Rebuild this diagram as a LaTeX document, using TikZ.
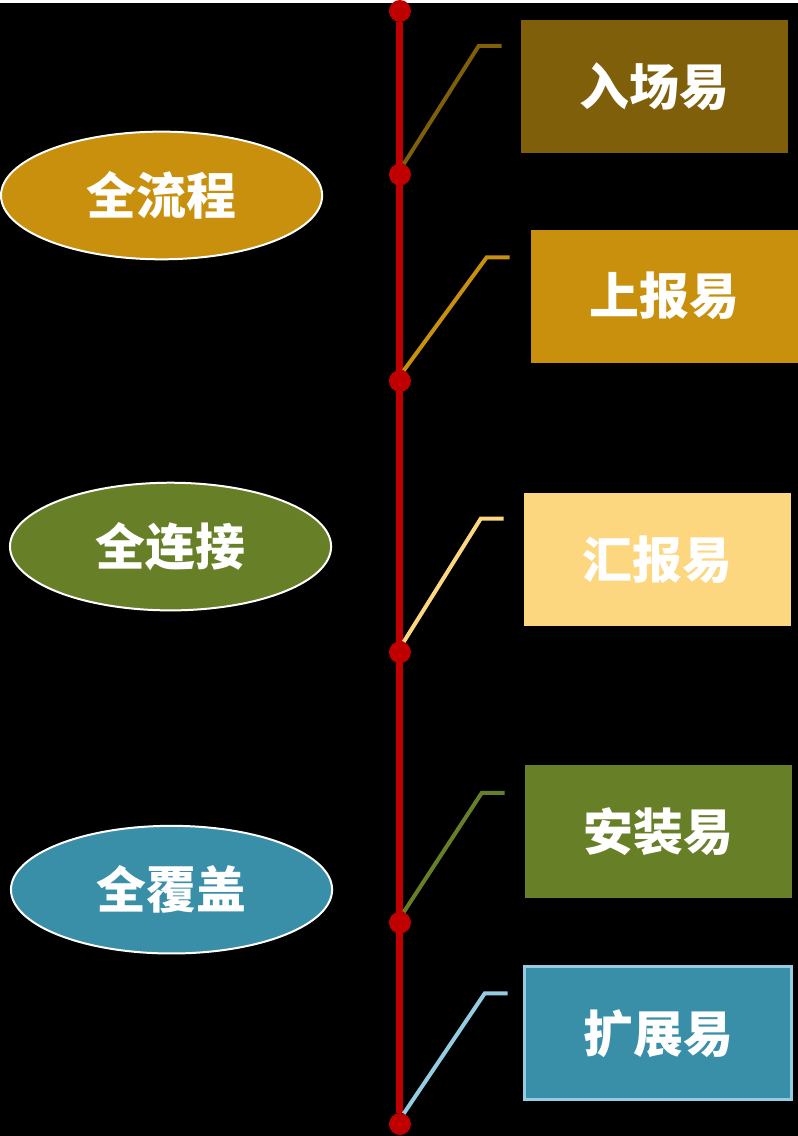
\documentclass[tikz,border=0pt]{standalone}
\usepackage{fontspec}
\newfontfamily\cjk{Noto Sans CJK SC}
\usetikzlibrary{shapes.geometric}

\definecolor{linered}{HTML}{C00000}
\definecolor{umber}{HTML}{7F5F0A}
\definecolor{amber}{HTML}{C8900C}
\definecolor{sand}{HTML}{FDD680}
\definecolor{moss}{HTML}{678028}
\definecolor{teal}{HTML}{3A8FA8}
\definecolor{sky}{HTML}{94CDE2}

\tikzset{
  easy/.style={fill=#1, text=white, inner sep=0pt, minimum width=268pt, minimum height=133pt,
    font=\cjk\bfseries\fontsize{50}{58}\selectfont},
  whole/.style={ellipse, draw=white, line width=2pt, fill=#1, text=white, inner sep=0pt,
    minimum width=322pt, minimum height=128pt, font=\cjk\bfseries\fontsize{50}{58}\selectfont},
  lead/.style={line width=4pt},
  dot/.style={circle, fill=linered, inner sep=0pt, minimum size=22pt}
}

\begin{document}
\begin{tikzpicture}[x=1pt,y=-1pt]
  \fill[black] (0,0) rectangle (800,1136); % background

  % dots on the time line
  \foreach \i/\y in {1/8, 2/172, 3/379, 4/651, 5/922, 6/1124} {
    \node[dot] (d\i) at (401,\y) {};
  }
  \draw[linered, line width=7pt] (d1) -- (d6);

  % boxes on the right
  \node[easy=umber] (b1) at (656,84) {入场易};
  \node[easy=amber] (b2) at (666,294) {上报易};
  \node[easy=sand]  (b3) at (659,558) {汇报易};
  \node[easy=moss]  (b4) at (660,831) {安装易};
  \node[easy=teal, draw=sky, line width=3pt] (b5) at (660,1033) {扩展易};

  % leaders from the dots
  \foreach \i/\s/\x/\y/\c in {1/2/480/43/umber, 2/3/488/255/amber, 3/4/482/517/sand,
                             4/5/483/792/moss, 5/6/486/993/sky} {
    \coordinate (k\i) at (\x,\y);
    \coordinate (t\i) at (\x+23,\y);
    \draw[lead, \c] (d\s.70) -- (k\i) -- (t\i);
  }

  % ellipses on the left
  \node[whole=amber] (e1) at (162,193) {全流程};
  \node[whole=moss]  (e2) at (171,545) {全连接};
  \node[whole=teal]  (e3) at (172,889) {全覆盖};
\end{tikzpicture}
\end{document}
